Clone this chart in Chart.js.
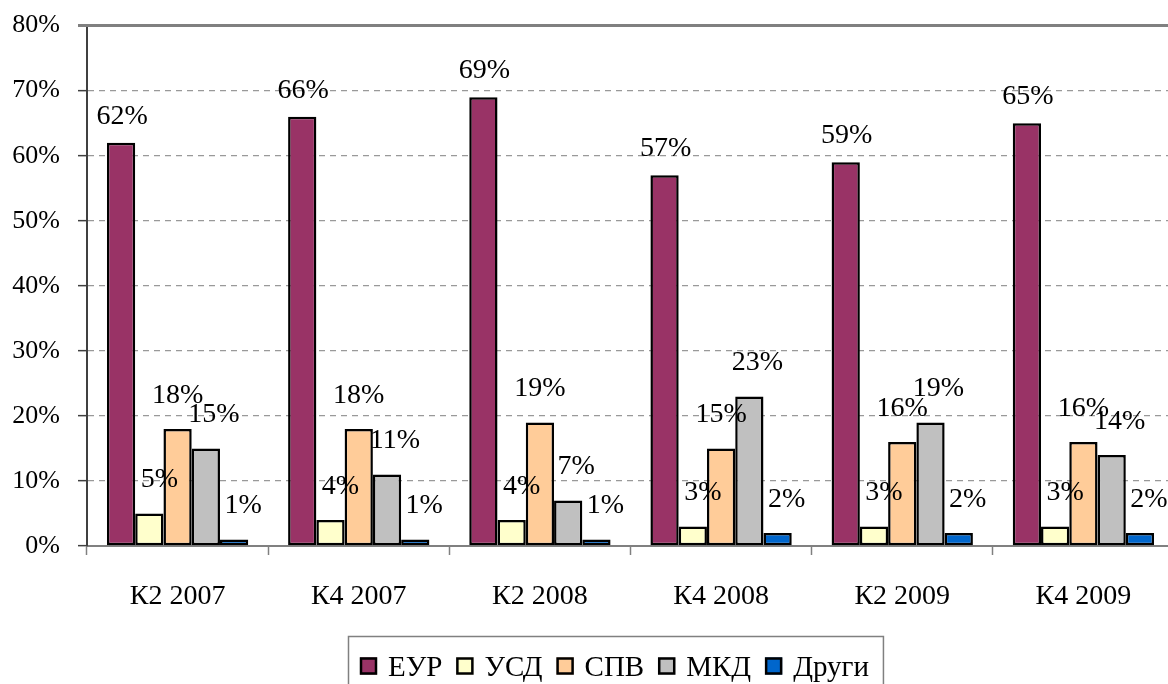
<!DOCTYPE html>
<html><head><meta charset="utf-8">
<script src="https://cdn.jsdelivr.net/npm/chart.js@4"></script>
<style>
html,body{margin:0;padding:0;background:#fff;overflow:hidden;width:1168px;height:684px;position:relative}
#wrap{position:absolute;left:0;top:-8px;width:1174px;height:708px}
</style></head><body><div id="wrap"><canvas id="c" width="1174" height="708"></canvas></div>
<script>
const categories = ['К2 2007','К4 2007','К2 2008','К4 2008','К2 2009','К4 2009'];
const seriesNames = ['ЕУР','УСД','СПВ','МКД','Други'];
const eur   = [62,66,69,57,59,65];
const usd   = [5,4,4,3,3,3];
const spv   = [18,18,19,15,16,16];
const mkd   = [15,11,7,23,19,14];
const drugi = [1,1,1,2,2,2];
const yTickValues = [0,10,20,30,40,50,60,70,80];

const FONT = '"Liberation Serif", "Times New Roman", serif';
const colors = ['#993366','#FFFFCC','#FFCC99','#C0C0C0','#0066CC'];
const seriesData = [eur, usd, spv, mkd, drugi];
const SHIFT = 8; // canvas is offset upward by this many px

const labelPlugin = {
  id: 'valueLabels',
  afterDatasetsDraw(chart) {
    const ctx = chart.ctx;
    const dx = [1, 10, 0, 8, 9];
    const gap = [19, 26, 26, 26, 26];
    ctx.save();
    ctx.font = '28px ' + FONT;
    ctx.fillStyle = '#000';
    ctx.textAlign = 'center';
    ctx.textBaseline = 'alphabetic';
    chart.data.datasets.forEach((ds, di) => {
      const meta = chart.getDatasetMeta(di);
      meta.data.forEach((el, i) => {
        ctx.fillText(ds.data[i] + '%', el.x + dx[di], el.y - gap[di]);
      });
    });
    ctx.restore();
  }
};

const framePlugin = {
  id: 'frame',
  afterDraw(chart) {
    const ctx = chart.ctx, a = chart.chartArea;
    ctx.save();
    ctx.strokeStyle = '#808080';
    ctx.lineWidth = 3;
    ctx.beginPath();
    ctx.moveTo(a.left - 9, a.top);
    ctx.lineTo(a.right, a.top);
    ctx.stroke();
    // legend
    ctx.font = '29px ' + FONT;
    const sq = 17, tGap = 11, iGap = 14, padL = 12, padR = 14;
    const items = chart.data.datasets.map(ds => ({label: ds.label, color: ds.backgroundColor, w: ctx.measureText(ds.label).width}));
    let total = padL + padR;
    items.forEach((it, k) => { total += sq + tGap + it.w + (k ? iGap : 0); });
    const centerX = 615, boxTop = 636 + SHIFT, midY = 666 + SHIFT;
    const left = Math.round(centerX - total / 2);
    ctx.strokeStyle = '#808080';
    ctx.lineWidth = 1.5;
    ctx.strokeRect(left + 0.5, boxTop + 0.5, total, 80);
    let x = left + padL;
    ctx.textBaseline = 'middle';
    ctx.textAlign = 'left';
    items.forEach(it => {
      ctx.fillStyle = it.color;
      ctx.fillRect(x, midY - sq / 2, sq, sq);
      ctx.strokeStyle = '#000';
      ctx.lineWidth = 2.5;
      ctx.strokeRect(x + 1, midY - sq / 2 + 1, sq - 2, sq - 2);
      ctx.fillStyle = '#000';
      ctx.fillText(it.label, x + sq + tGap, midY + 2);
      x += sq + tGap + it.w + iGap;
    });
    ctx.restore();
  }
};

new Chart(document.getElementById('c'), {
  type: 'bar',
  data: {
    labels: categories,
    datasets: seriesNames.map((name, k) => ({
      label: name,
      data: seriesData[k],
      backgroundColor: colors[k],
      borderColor: '#000',
      borderWidth: 2.5,
      borderSkipped: false,
      categoryPercentage: 0.78,
      barPercentage: 1.0
    }))
  },
  options: {
    responsive: false,
    devicePixelRatio: 1,
    animation: false,
    layout: { padding: { top: 17, left: 0, right: 0, bottom: 0 } },
    plugins: { legend: { display: false }, tooltip: { enabled: false } },
    scales: {
      x: {
        offset: true,
        grid: { display: true, drawOnChartArea: false, offset: true, tickLength: 9, tickColor: '#808080', tickWidth: 1.5 },
        border: { color: '#808080', width: 2 },
        ticks: { color: '#000', font: { family: FONT, size: 28 }, padding: 25, maxRotation: 0 },
        afterFit: s => { s.height = 154; }
      },
      y: {
        min: 0, max: 80,
        afterBuildTicks: s => { s.ticks = yTickValues.map(v => ({ value: v })); },
        grid: { color: '#999999', lineWidth: 1.3, tickLength: 9, tickColor: '#404040', tickWidth: 1.5 },
        border: { color: '#404040', width: 2, dash: [6, 5] },
        ticks: { color: '#000', font: { family: FONT, size: 26 }, padding: 18, callback: v => v + '%' },
        afterFit: s => { s.width = 87; }
      }
    }
  },
  plugins: [labelPlugin, framePlugin]
});
</script>
</body></html>
